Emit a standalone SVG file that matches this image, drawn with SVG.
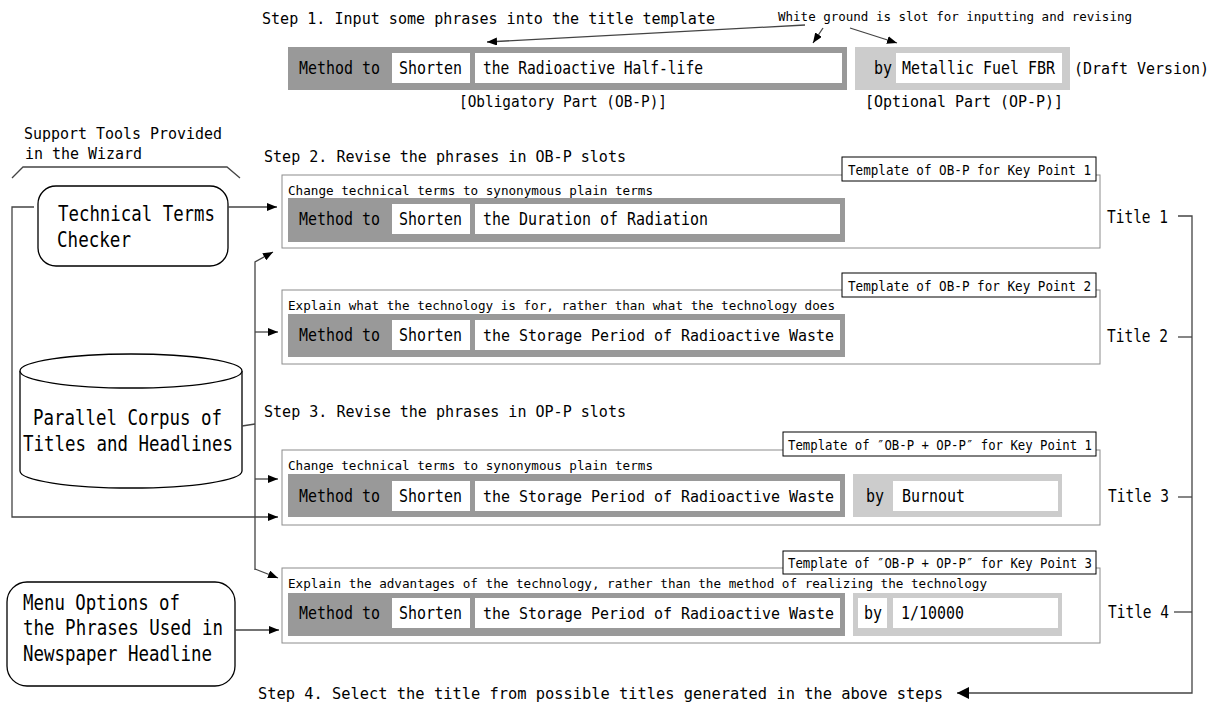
<svg xmlns="http://www.w3.org/2000/svg" width="1217" height="709" viewBox="0 0 1217 709">
<style>
text{font-family:"DejaVu Sans Mono","Liberation Mono",monospace;fill:#000}
.s{font-size:16px}
.b{font-size:17px}
.bl{font-size:16px}
.n{font-size:20.5px}
.sm{font-size:13px}
.lab{font-size:13.5px}
.dark{fill:#999}
.light{fill:#ccc}
.slot{fill:#fff}
.frame{fill:#fff;stroke:#8c8c8c;stroke-width:1}
.tag{fill:#fff;stroke:#000;stroke-width:1}
.ln{fill:none;stroke:#444;stroke-width:1.3}
.node{fill:#fff;stroke:#000;stroke-width:1.3}
</style>
<defs>
<marker id="ah" viewBox="0 0 10 8" refX="10" refY="4" markerWidth="10" markerHeight="8" markerUnits="userSpaceOnUse" orient="auto">
<path d="M0,0 L10,4 L0,8 Z" fill="#000"/>
</marker>
<marker id="ahb" viewBox="0 0 12 12" refX="12" refY="6" markerWidth="12" markerHeight="12" markerUnits="userSpaceOnUse" orient="auto">
<path d="M0,0 L12,6 L0,12 Z" fill="#000"/>
</marker>
</defs>

<g id="step1">
<text class="s" x="262" y="24" textLength="453" lengthAdjust="spacingAndGlyphs">Step 1. Input some phrases into the title template</text>
<text class="sm" x="778" y="21" textLength="354" lengthAdjust="spacingAndGlyphs">White ground is slot for inputting and revising</text>
<rect class="dark" x="288" y="47" width="559" height="43"/>
<rect class="slot" x="392" y="53" width="78" height="30"/>
<rect class="slot" x="475" y="53" width="367" height="30"/>
<text class="b" x="299" y="74" textLength="81" lengthAdjust="spacingAndGlyphs">Method to</text>
<text class="b" x="399" y="74" textLength="63" lengthAdjust="spacingAndGlyphs">Shorten</text>
<text class="b" x="483" y="74" textLength="220" lengthAdjust="spacingAndGlyphs">the Radioactive Half-life</text>
<rect class="light" x="855" y="47" width="215" height="43"/>
<rect class="slot" x="896" y="53" width="166" height="30"/>
<text class="b" x="874" y="74" textLength="18" lengthAdjust="spacingAndGlyphs">by</text>
<text class="b" x="902" y="74" textLength="153" lengthAdjust="spacingAndGlyphs">Metallic Fuel FBR</text>
<text class="s" x="1074" y="74" textLength="135" lengthAdjust="spacingAndGlyphs">(Draft Version)</text>
<text class="s" x="459" y="107" textLength="208" lengthAdjust="spacingAndGlyphs">[Obligatory Part (OB-P)]</text>
<text class="s" x="865" y="107" textLength="198" lengthAdjust="spacingAndGlyphs">[Optional Part (OP-P)]</text>
</g>

<g id="support-tools-label">
<text class="s" x="24" y="139" textLength="198" lengthAdjust="spacingAndGlyphs">Support Tools Provided</text>
<text class="s" x="25" y="159" textLength="117" lengthAdjust="spacingAndGlyphs">in the Wizard</text>
<path class="ln" d="M12,178 L23,167 L227,167 L240,178"/>
</g>

<g id="technical-terms-checker">
<rect class="node" x="38" y="186" width="190" height="80" rx="18"/>
<text class="n" x="58" y="221" textLength="157" lengthAdjust="spacingAndGlyphs">Technical Terms</text>
<text class="n" x="57" y="247" textLength="74" lengthAdjust="spacingAndGlyphs">Checker</text>
</g>

<g id="parallel-corpus">
<path class="node" d="M20,371 A111,17 0 0 1 242,371 L242,471 A111,17 0 0 1 20,471 Z"/>
<path class="node" d="M20,371 A111,17 0 0 0 242,371" fill="none"/>
<text class="n" x="33" y="425" textLength="189" lengthAdjust="spacingAndGlyphs">Parallel Corpus of</text>
<text class="n" x="23" y="451" textLength="210" lengthAdjust="spacingAndGlyphs">Titles and Headlines</text>
</g>

<g id="menu-options">
<rect class="node" x="7" y="582" width="228" height="104" rx="20"/>
<text class="n" x="23" y="610" textLength="157" lengthAdjust="spacingAndGlyphs">Menu Options of</text>
<text class="n" x="23" y="635" textLength="200" lengthAdjust="spacingAndGlyphs">the Phrases Used in</text>
<text class="n" x="23" y="661" textLength="189" lengthAdjust="spacingAndGlyphs">Newspaper Headline</text>
</g>

<g id="step2-label">
<text class="s" x="264" y="162" textLength="362" lengthAdjust="spacingAndGlyphs">Step 2. Revise the phrases in OB-P slots</text>
</g>

<g id="title1-template">
<rect class="frame" x="282" y="175" width="818" height="73"/>
<rect class="tag" x="842" y="157" width="254" height="24"/>
<text class="lab" x="848" y="175" textLength="243" lengthAdjust="spacingAndGlyphs">Template of OB-P for Key Point 1</text>
<text class="sm" x="288" y="195" textLength="365" lengthAdjust="spacingAndGlyphs">Change technical terms to synonymous plain terms</text>
<rect class="dark" x="288" y="198" width="557" height="44"/>
<rect class="slot" x="392" y="204" width="78" height="30"/>
<rect class="slot" x="475" y="204" width="365" height="30"/>
<text class="b" x="299" y="225" textLength="81" lengthAdjust="spacingAndGlyphs">Method to</text>
<text class="b" x="399" y="225" textLength="63" lengthAdjust="spacingAndGlyphs">Shorten</text>
<text class="b" x="483" y="225" textLength="225" lengthAdjust="spacingAndGlyphs">the Duration of Radiation</text>
<text class="b" x="1107" y="223" textLength="61" lengthAdjust="spacingAndGlyphs">Title 1</text>
</g>

<g id="title2-template">
<rect class="frame" x="282" y="290" width="818" height="74"/>
<rect class="tag" x="842" y="273" width="254" height="24"/>
<text class="lab" x="848" y="291" textLength="243" lengthAdjust="spacingAndGlyphs">Template of OB-P for Key Point 2</text>
<text class="sm" x="288" y="310" textLength="547" lengthAdjust="spacingAndGlyphs">Explain what the technology is for, rather than what the technology does</text>
<rect class="dark" x="288" y="314" width="557" height="43"/>
<rect class="slot" x="392" y="320" width="78" height="30"/>
<rect class="slot" x="475" y="320" width="365" height="30"/>
<text class="b" x="299" y="341" textLength="81" lengthAdjust="spacingAndGlyphs">Method to</text>
<text class="b" x="399" y="341" textLength="63" lengthAdjust="spacingAndGlyphs">Shorten</text>
<text class="bl" x="483" y="341" textLength="351" lengthAdjust="spacingAndGlyphs">the Storage Period of Radioactive Waste</text>
<text class="b" x="1107" y="342" textLength="61" lengthAdjust="spacingAndGlyphs">Title 2</text>
</g>

<g id="step3-label">
<text class="s" x="264" y="417" textLength="362" lengthAdjust="spacingAndGlyphs">Step 3. Revise the phrases in OP-P slots</text>
</g>

<g id="title3-template">
<rect class="frame" x="282" y="450" width="818" height="75"/>
<rect class="tag" x="783" y="432" width="313" height="24"/>
<text class="lab" x="788" y="450" textLength="304" lengthAdjust="spacingAndGlyphs">Template of ″OB-P + OP-P″ for Key Point 1</text>
<text class="sm" x="288" y="470" textLength="365" lengthAdjust="spacingAndGlyphs">Change technical terms to synonymous plain terms</text>
<rect class="dark" x="288" y="474" width="557" height="43"/>
<rect class="slot" x="392" y="481" width="78" height="30"/>
<rect class="slot" x="475" y="481" width="365" height="30"/>
<text class="b" x="299" y="502" textLength="81" lengthAdjust="spacingAndGlyphs">Method to</text>
<text class="b" x="399" y="502" textLength="63" lengthAdjust="spacingAndGlyphs">Shorten</text>
<text class="bl" x="483" y="502" textLength="351" lengthAdjust="spacingAndGlyphs">the Storage Period of Radioactive Waste</text>
<rect class="light" x="853" y="474" width="209" height="43"/>
<rect class="slot" x="893" y="481" width="165" height="30"/>
<text class="b" x="866" y="502" textLength="18" lengthAdjust="spacingAndGlyphs">by</text>
<text class="b" x="902" y="502" textLength="63" lengthAdjust="spacingAndGlyphs">Burnout</text>
<text class="b" x="1108" y="502" textLength="61" lengthAdjust="spacingAndGlyphs">Title 3</text>
</g>

<g id="title4-template">
<rect class="frame" x="282" y="568" width="818" height="75"/>
<rect class="tag" x="783" y="551" width="313" height="23"/>
<text class="lab" x="788" y="568" textLength="304" lengthAdjust="spacingAndGlyphs">Template of ″OB-P + OP-P″ for Key Point 3</text>
<text class="sm" x="288" y="588" textLength="699" lengthAdjust="spacingAndGlyphs">Explain the advantages of the technology, rather than the method of realizing the technology</text>
<rect class="dark" x="288" y="593" width="557" height="43"/>
<rect class="slot" x="392" y="598" width="78" height="30"/>
<rect class="slot" x="475" y="598" width="365" height="30"/>
<text class="b" x="299" y="619" textLength="81" lengthAdjust="spacingAndGlyphs">Method to</text>
<text class="b" x="399" y="619" textLength="63" lengthAdjust="spacingAndGlyphs">Shorten</text>
<text class="bl" x="483" y="619" textLength="351" lengthAdjust="spacingAndGlyphs">the Storage Period of Radioactive Waste</text>
<rect class="light" x="853" y="593" width="209" height="43"/>
<rect class="slot" x="858" y="598" width="29" height="30"/>
<rect class="slot" x="893" y="598" width="165" height="30"/>
<text class="b" x="864" y="619" textLength="18" lengthAdjust="spacingAndGlyphs">by</text>
<text class="b" x="901" y="619" textLength="63" lengthAdjust="spacingAndGlyphs">1/10000</text>
<text class="b" x="1108" y="618" textLength="61" lengthAdjust="spacingAndGlyphs">Title 4</text>
</g>

<g id="step4-label">
<text class="s" x="258" y="699" textLength="685" lengthAdjust="spacingAndGlyphs">Step 4. Select the title from possible titles generated in the above steps</text>
</g>

<g id="connectors">
<line class="ln" x1="805" y1="25" x2="487" y2="42" marker-end="url(#ah)"/>
<line class="ln" x1="823" y1="28" x2="813" y2="43" marker-end="url(#ah)"/>
<line class="ln" x1="850" y1="28" x2="897" y2="43" marker-end="url(#ah)"/>
<line class="ln" x1="228" y1="207" x2="277" y2="207" marker-end="url(#ah)"/>
<path class="ln" d="M34,207 L12,207 L12,517 L278,517" marker-end="url(#ah)"/>
<path class="ln" d="M255,570 L255,262 L273,252" marker-end="url(#ah)"/>
<line class="ln" x1="255" y1="332" x2="278" y2="332" marker-end="url(#ah)"/>
<line class="ln" x1="255" y1="479" x2="278" y2="479" marker-end="url(#ah)"/>
<path class="ln" d="M255,569 L278,578" marker-end="url(#ah)"/>
<line class="ln" x1="242" y1="426" x2="255" y2="424"/>
<line class="ln" x1="235" y1="630" x2="279" y2="630" marker-end="url(#ah)"/>
<path class="ln" d="M1178,216 L1192,216 L1192,693 L957,693" marker-end="url(#ahb)"/>
<line class="ln" x1="1178" y1="337" x2="1192" y2="337"/>
<line class="ln" x1="1178" y1="497" x2="1192" y2="497"/>
<line class="ln" x1="1174" y1="612" x2="1192" y2="612"/>
</g>
</svg>
